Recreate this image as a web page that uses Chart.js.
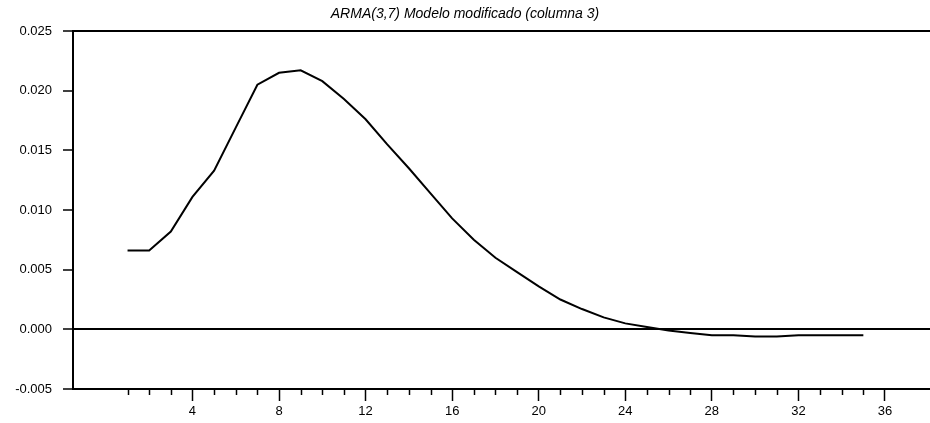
<!DOCTYPE html>
<html>
<head>
<meta charset="utf-8">
<script src="https://cdn.jsdelivr.net/npm/chart.js@4.4.1/dist/chart.umd.min.js"></script>
<style>
  html, body { margin: 0; padding: 0; background: #fff; }
  #wrap { width: 930px; height: 423px; }
</style>
</head>
<body>
<div id="wrap"><canvas id="irfChart"></canvas></div>
<script>
// impulse response, ARMA(3,7) modified model, column 3
const lags = [1, 2, 3, 4, 5, 6, 7, 8, 9, 10, 11, 12, 13, 14, 15, 16, 17, 18,
  19, 20, 21, 22, 23, 24, 25, 26, 27, 28, 29, 30, 31, 32, 33, 34, 35];
const response = [0.0066, 0.0066, 0.0082, 0.0111, 0.0133, 0.0169, 0.0205, 0.0215,
  0.0217, 0.0208, 0.0193, 0.0176, 0.0155, 0.0135, 0.0114, 0.0093, 0.0075, 0.0060,
  0.0048, 0.0036, 0.0025, 0.0017, 0.0010, 0.0005, 0.0002, -0.0001, -0.0003, -0.0005,
  -0.0005, -0.0006, -0.0006, -0.0005, -0.0005, -0.0005, -0.0005];
const xTicks = [1, 2, 3, 4, 5, 6, 7, 8, 9, 10, 11, 12, 13, 14, 15, 16, 17, 18,
  19, 20, 21, 22, 23, 24, 25, 26, 27, 28, 29, 30, 31, 32, 33, 34, 35, 36];
const xLabelEvery = 4;
const yTicks = [-0.005, 0.000, 0.005, 0.010, 0.015, 0.020, 0.025];
const chartTitle = 'ARMA(3,7) Modelo modificado (columna 3)';

const FONT = "'Liberation Sans', Arial, sans-serif";

// short minor ticks on x and the top frame line
const framePlugin = {
  id: 'frame',
  afterDraw(chart) {
    const { ctx, chartArea } = chart;
    const xs = chart.scales.x;
    ctx.save();
    ctx.strokeStyle = '#000';
    ctx.lineWidth = 2;
    ctx.beginPath();
    ctx.moveTo(chartArea.left - 1, chartArea.top);
    ctx.lineTo(chartArea.right, chartArea.top);
    ctx.stroke();
    ctx.lineWidth = 1.5;
    xTicks.forEach(v => {
      if (v % xLabelEvery === 0) return;
      const px = Math.round(xs.getPixelForValue(v)) + 0.5;
      ctx.beginPath();
      ctx.moveTo(px, chartArea.bottom);
      ctx.lineTo(px, chartArea.bottom + 6);
      ctx.stroke();
    });
    ctx.restore();
  }
};

new Chart(document.getElementById('irfChart').getContext('2d'), {
  type: 'line',
  data: {
    datasets: [{
      label: 'Respuesta',
      data: lags.map((l, i) => ({ x: l, y: response[i] })),
      borderColor: '#000',
      borderWidth: 2,
      pointRadius: 0,
      tension: 0,
      fill: false
    }]
  },
  options: {
    responsive: true,
    maintainAspectRatio: false,
    animation: false,
    layout: { padding: { left: 0, right: 0, top: 0, bottom: 0 } },
    scales: {
      x: {
        type: 'linear',
        min: -1.52,
        max: 38.08,
        afterBuildTicks: s => { s.ticks = xTicks.map(v => ({ value: v })); },
        afterFit: s => { s.height = 34; },
        ticks: {
          autoSkip: false,
          maxRotation: 0,
          padding: 3,
          color: '#000',
          font: { family: FONT, size: 13 },
          callback: v => (v % xLabelEvery === 0 ? String(v) : '')
        },
        grid: {
          drawOnChartArea: false,
          drawTicks: true,
          tickLength: 12,
          tickWidth: 1.5,
          tickColor: c => (c.tick && c.tick.value % xLabelEvery === 0 ? '#000' : 'rgba(0,0,0,0)')
        },
        border: { color: '#000', width: 2 }
      },
      y: {
        min: -0.005,
        max: 0.025,
        afterBuildTicks: s => { s.ticks = yTicks.map(v => ({ value: v })); },
        afterFit: s => { s.width = 73; },
        ticks: {
          padding: 11,
          color: '#000',
          font: { family: FONT, size: 13 },
          callback: v => v.toFixed(3)
        },
        grid: {
          drawOnChartArea: true,
          drawTicks: true,
          tickLength: 10,
          tickWidth: 1.5,
          tickColor: '#000',
          lineWidth: 2,
          color: c => (c.tick && Math.abs(c.tick.value) < 1e-9 ? '#000' : 'rgba(0,0,0,0)')
        },
        border: { color: '#000', width: 2 }
      }
    },
    plugins: {
      legend: { display: false },
      tooltip: { enabled: false },
      title: {
        display: true,
        text: chartTitle,
        color: '#000',
        font: { family: FONT, size: 14, style: 'italic', weight: 'normal' },
        padding: { top: 6, bottom: 8.2 }
      }
    }
  },
  plugins: [framePlugin]
});
</script>
</body>
</html>
